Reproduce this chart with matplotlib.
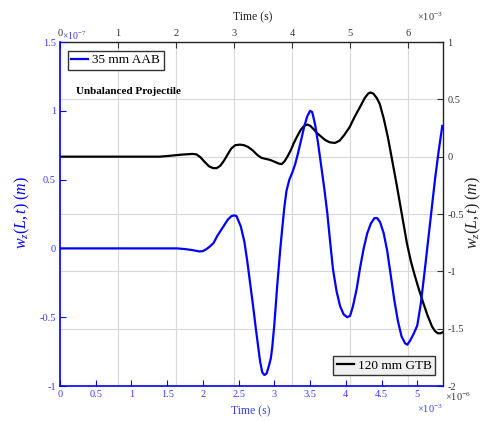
import matplotlib
matplotlib.use('Agg')
import matplotlib.pyplot as plt
from matplotlib.ticker import FuncFormatter, MultipleLocator

plt.rcParams['font.family'] = ['Liberation Serif', 'DejaVu Serif']
plt.rcParams['mathtext.fontset'] = 'custom'
plt.rcParams['mathtext.rm'] = 'Liberation Serif'
plt.rcParams['mathtext.it'] = 'Liberation Serif:italic'
plt.rcParams['axes.unicode_minus'] = False

# 35 mm AAB: time in 1e-3 s, deflection in 1e-7 m (bottom / left axes)
t_aab = [0, 0.5, 1.0, 1.64, 1.75, 1.85, 1.95, 2.00, 2.05, 2.10, 2.15, 2.20, 2.25,
         2.30, 2.35, 2.40, 2.44, 2.47, 2.53, 2.58, 2.62, 2.66, 2.70, 2.74, 2.77,
         2.80, 2.83, 2.86, 2.89, 2.92, 2.95, 2.97, 3.00, 3.04, 3.08, 3.11, 3.14,
         3.17, 3.21, 3.25, 3.29, 3.33, 3.38, 3.42, 3.46, 3.50, 3.53, 3.57, 3.61,
         3.65, 3.70, 3.74, 3.78, 3.82, 3.87, 3.92, 3.97, 4.02, 4.06, 4.10, 4.15,
         4.20, 4.25, 4.30, 4.35, 4.40, 4.44, 4.48, 4.53, 4.58, 4.63, 4.68, 4.73,
         4.78, 4.83, 4.86, 4.90, 4.95, 5.00, 5.05, 5.10, 5.15, 5.20, 5.25, 5.30, 5.35]
w_aab = [0, 0, 0, 0, -0.005, -0.012, -0.022, -0.02, -0.005, 0.015, 0.04, 0.09, 0.13,
         0.17, 0.21, 0.235, 0.24, 0.235, 0.16, 0.05, -0.09, -0.25, -0.41, -0.58, -0.70,
         -0.82, -0.90, -0.92, -0.91, -0.86, -0.80, -0.72, -0.55, -0.27, -0.02, 0.145, 0.30,
         0.42, 0.50, 0.55, 0.61, 0.69, 0.80, 0.89, 0.96, 1.0, 0.99, 0.90, 0.77,
         0.62, 0.43, 0.26, 0.05, -0.15, -0.31, -0.42, -0.48, -0.50, -0.49, -0.42, -0.30,
         -0.14, 0.0, 0.11, 0.18, 0.22, 0.22, 0.19, 0.11, -0.02, -0.20, -0.38, -0.53,
         -0.64, -0.69, -0.70, -0.67, -0.62, -0.56, -0.40, -0.18, 0.05, 0.28, 0.51, 0.71, 0.89]

# 120 mm GTB: time in 1e-3 s, deflection in 1e-6 m (top / right axes)
t_gtb = [0, 1.0, 1.72, 1.9, 2.1, 2.29, 2.35, 2.42, 2.50, 2.57, 2.64, 2.70, 2.76,
         2.82, 2.89, 2.95, 3.02, 3.10, 3.17, 3.24, 3.32, 3.40, 3.47, 3.55, 3.62,
         3.70, 3.77, 3.82, 3.87, 3.93, 3.98, 4.03, 4.09, 4.15, 4.21, 4.26, 4.31,
         4.37, 4.43, 4.50, 4.57, 4.65, 4.74, 4.82, 4.90, 4.99, 5.08, 5.17, 5.25,
         5.31, 5.35, 5.40, 5.46, 5.51, 5.58, 5.65, 5.72, 5.80, 5.89, 5.98, 6.05,
         6.11, 6.18, 6.25, 6.33, 6.41, 6.46, 6.51, 6.56, 6.60]
w_gtb = [0, 0, 0, 0.008, 0.018, 0.024, 0.02, -0.005, -0.05, -0.085, -0.10, -0.10, -0.08,
         -0.04, 0.02, 0.07, 0.10, 0.105, 0.10, 0.085, 0.055, 0.015, -0.01, -0.02, -0.028,
         -0.045, -0.06, -0.065, -0.04, 0.01, 0.06, 0.12, 0.18, 0.235, 0.27, 0.28, 0.27,
         0.24, 0.205, 0.175, 0.145, 0.125, 0.12, 0.14, 0.19, 0.257, 0.35, 0.433, 0.51,
         0.55, 0.56, 0.55, 0.51, 0.46, 0.33, 0.17, -0.02, -0.24, -0.50, -0.76, -0.92,
         -1.03, -1.15, -1.26, -1.38, -1.48, -1.52, -1.54, -1.54, -1.53]

xt_bottom = [0, 0.5, 1, 1.5, 2, 2.5, 3, 3.5, 4, 4.5, 5]
xt_top = [0, 1, 2, 3, 4, 5, 6]

fmt = FuncFormatter(lambda v, p: '{:g}'.format(v))
blue = '#0000ff'
lblue = '#3a3aff'

fig = plt.figure(figsize=(4.82, 4.21), dpi=100)
rect = [60 / 482, 1 - 386 / 421, 383 / 482, 344 / 421]

# black axes (top / right) underneath, carrying the grid
ax2 = fig.add_axes(rect)
ax2.plot(t_gtb, w_gtb, color='black', lw=1.6, label='120 mm GTB')
ax2.set_xlim(0, 6.6)
ax2.set_ylim(-2, 1)
ax2.xaxis.tick_top()
ax2.yaxis.tick_right()
ax2.set_xticks(xt_top)
ax2.yaxis.set_major_locator(MultipleLocator(0.5))
ax2.xaxis.set_major_formatter(fmt)
ax2.yaxis.set_major_formatter(fmt)
ax2.tick_params(direction='in', length=4, labelsize=7.5, colors='#333333',
                top=True, right=True, bottom=False, left=False, pad=3)
ax2.grid(True, color='#d8d8d8', lw=0.8)
for s in ['left', 'bottom']:
    ax2.spines[s].set_visible(False)
for s in ['top', 'right']:
    ax2.spines[s].set_color('#222222')
    ax2.spines[s].set_linewidth(1.0)
leg2 = ax2.legend(loc='lower right', bbox_to_anchor=(0.979, 0.032), borderaxespad=0,
                  fancybox=False, edgecolor='#333333', facecolor='#f0f0f0', framealpha=1,
                  fontsize=9.5, handlelength=1.3, borderpad=0.25, handletextpad=0.3)
leg2.get_frame().set_linewidth(1.0)

# blue axes (bottom / left) on top, transparent
ax1 = fig.add_axes(rect)
ax1.patch.set_alpha(0)
ax1.plot(t_aab, w_aab, color=blue, lw=1.6, label='35 mm AAB')
ax1.set_xlim(0, 5.36)
ax1.set_ylim(-1, 1.5)
ax1.set_xticks(xt_bottom)
ax1.yaxis.set_major_locator(MultipleLocator(0.5))
ax1.xaxis.set_major_formatter(fmt)
ax1.yaxis.set_major_formatter(fmt)
ax1.tick_params(direction='in', length=4, labelsize=7.5, color=blue, labelcolor=lblue, pad=3)
for s in ['top', 'right']:
    ax1.spines[s].set_visible(False)
for s in ['left', 'bottom']:
    ax1.spines[s].set_color(blue)
    ax1.spines[s].set_linewidth(1.2)
leg1 = ax1.legend(loc='upper left', bbox_to_anchor=(0.021, 0.974), borderaxespad=0,
                  fancybox=False, edgecolor='#333333', facecolor='white', framealpha=1,
                  fontsize=9.5, handlelength=1.3, borderpad=0.25, handletextpad=0.3)
leg1.get_frame().set_linewidth(1.0)
ax1.text(0.042, 0.855, 'Unbalanced Projectile', transform=ax1.transAxes,
         fontsize=8, fontweight='bold', va='center', ha='left')

# axis labels and exponent texts
fig.text(251 / 482, 1 - 411 / 421, 'Time (s)', color=lblue, fontsize=8.5,
         ha='center', va='center')
fig.text(253 / 482, 1 - 17 / 421, 'Time (s)', color='#222222', fontsize=8.5,
         ha='center', va='center')
fig.text(22 / 482, 1 - 212 / 421, r'$w_z(L,t)\ (m)$', color=blue, fontsize=11.5,
         rotation=90, ha='center', va='center')
fig.text(473 / 482, 1 - 212 / 421, r'$w_z(L,t)\ (m)$', color='#222222', fontsize=11.5,
         rotation=90, ha='center', va='center')
fig.text(62 / 482, 1 - 42 / 421, r'$\times10^{-7}$', color=lblue, fontsize=7,
         ha='left', va='bottom')
fig.text(443 / 482, 1 - 403 / 421, r'$\times10^{-3}$', color=lblue, fontsize=7.5,
         ha='right', va='top')
fig.text(443 / 482, 1 - 23 / 421, r'$\times10^{-3}$', color='#333333', fontsize=7.5,
         ha='right', va='bottom')
fig.text(445 / 482, 1 - 391 / 421, r'$\times10^{-6}$', color='#333333', fontsize=7.5,
         ha='left', va='top')

fig.savefig('out.png', dpi=100)
